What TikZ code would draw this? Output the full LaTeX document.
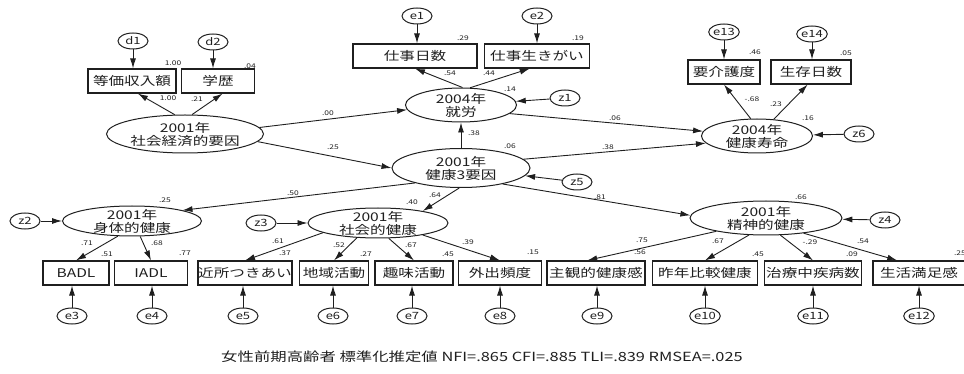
\documentclass[tikz,border=0pt]{standalone}
\usepackage{fontspec}
\setmainfont[FakeStretch=1.3]{Noto Sans CJK JP}
\usetikzlibrary{shapes.geometric,arrows.meta,positioning}

\tikzset{
  obs/.style={draw, rectangle, line width=1.1pt, minimum height=24pt, inner sep=0pt, font=\fontsize{12}{13}\selectfont},
  lat/.style={draw, ellipse, line width=1pt, inner xsep=0pt, inner ysep=-2pt, align=center, font=\fontsize{12}{13}\selectfont},
  err/.style={draw, ellipse, line width=1pt, minimum width=30pt, minimum height=16pt, inner sep=0pt, font=\fontsize{10}{11}\selectfont},
  coef/.style={inner sep=0pt, font=\fontsize{6.5}{7}\selectfont},
  arr/.style={-{Latex[length=10pt,width=6pt]}, line width=0.9pt},
}

\begin{document}
\begin{tikzpicture}[x=1pt, y=-1pt, color=black!88]
\useasboundingbox (0,0) rectangle (964,374);

\node[lat, minimum width=157pt, minimum height=38pt] (ses) at (185,134) {2001年\\社会経済的要因};
\node[lat, minimum width=111pt, minimum height=34pt] (work) at (461,105) {2004年\\就労};
\node[lat, minimum width=138pt, minimum height=39pt] (h3) at (461,168) {2001年\\健康3要因};
\node[lat, minimum width=111pt, minimum height=34pt] (hle) at (757,136) {2004年\\健康寿命};
\node[lat, minimum width=139pt, minimum height=30pt] (phys) at (132,221) {2001年\\身体的健康};
\node[lat, minimum width=140pt, minimum height=30pt] (soc) at (378,223) {2001年\\社会的健康};
\node[lat, minimum width=152pt, minimum height=34pt] (ment) at (766,218) {2001年\\精神的健康};

\node[obs, minimum width=88pt] (inc) at (132,81) {等価収入額};
\node[obs, minimum width=73pt] (edu) at (218,81) {学歴};
\node[obs, minimum width=124pt] (wdays) at (415,56) {仕事日数};
\node[obs, minimum width=105pt] (wlife) at (537,56) {仕事生きがい};
\node[obs, minimum width=72pt] (care) at (724,72) {要介護度};
\node[obs, minimum width=80pt] (surv) at (811,72) {生存日数};

\node[obs, minimum width=66pt] (badl) at (76,273) {BADL};
\node[obs, minimum width=73pt] (iadl) at (151,273) {IADL};
\node[obs, minimum width=94pt] (nbr) at (245,273) {近所つきあい};
\node[obs, minimum width=69pt] (comm) at (334,273) {地域活動};
\node[obs, minimum width=78pt] (hobby) at (414,273) {趣味活動};
\node[obs, minimum width=83pt] (out) at (500,273) {外出頻度};
\node[obs, minimum width=98pt] (subj) at (596,273) {主観的健康感};
\node[obs, minimum width=105pt] (comp) at (705,273) {昨年比較健康};
\node[obs, minimum width=97pt] (dis) at (813,273) {治療中疾病数};
\node[obs, minimum width=92pt] (sat) at (919,273) {生活満足感};

\foreach \nm/\px/\py in {d1/133/41, d2/213/42, e1/417/16, e2/537/16, e13/724/32, e14/812/34,
  z1/565/98, z5/577/182, z6/859/134, z2/25/221, z3/261/223, z4/885/220}
  { \node[err] (\nm) at (\px,\py) {\nm}; }
\foreach \nm/\px in {e3/72, e4/152, e5/243, e6/333, e7/412, e8/500, e9/597, e10/705, e11/813, e12/919}
  { \node[err] (\nm) at (\px,316) {\nm}; }

\draw[arr] (d1) -- (d1 |- inc.north); \draw[arr] (d2) -- (d2 |- edu.north);
\draw[arr] (e1) -- (e1 |- wdays.north); \draw[arr] (e2) -- (e2 |- wlife.north);
\draw[arr] (e13) -- (e13 |- care.north); \draw[arr] (e14) -- (e14 |- surv.north);
\foreach \e/\b in {e3/badl, e4/iadl, e5/nbr, e6/comm, e7/hobby, e8/out, e9/subj, e10/comp, e11/dis, e12/sat}
  { \draw[arr] (\e) -- (\e |- \b.south); }
\foreach \z/\l in {z1/work, z5/h3, z6/hle, z2/phys, z3/soc, z4/ment} { \draw[arr] (\z) -- (\l); }

\draw[arr] (ses.118) -- (inc.295); \draw[arr] (ses.70) -- (edu.290);
\draw[arr] (ses.5) -- (work.185); \draw[arr] (ses.354) -- (h3.west);
\draw[arr] (work.85) -- (wdays.south); \draw[arr] (work.62) -- (wlife.240);
\draw[arr] (h3) -- (work);
\draw[arr] (work.350) -- (hle.175); \draw[arr] (h3.8) -- (hle.188);
\draw[arr] (hle.110) -- (care.south); \draw[arr] (hle.45) -- (surv.255);
\draw[arr] (h3.198) -- (phys.12); \draw[arr] (h3.265) -- (soc.15); \draw[arr] (h3.339) -- (ment.178);
\draw[arr] (phys.227) -- (badl.north); \draw[arr] (phys.298) -- (iadl.north);
\draw[arr] (soc.190) -- (nbr.north); \draw[arr] (soc.215) -- (comm.north);
\draw[arr] (soc.305) -- (hobby.north); \draw[arr] (soc.345) -- (out.north);
\draw[arr] (ment.195) -- (subj.125); \draw[arr] (ment.225) -- (comp.north);
\draw[arr] (ment.310) -- (dis.north); \draw[arr] (ment.338) -- (sat.150);

\foreach \nm/\px/\py/\tx in {rinc/173/63/1.00, redu/250/66/.04, linc/168/98/1.00, ledu/197/99/.21,
  lseswork/328/113/.00, lsesh/333/147/.25, rwdays/463/38/.29, rwlife/578/38/.19,
  lwdays/450/73/.54, lwlife/489/73/.44, rwork/510/89/.14, lhwork/474/133/.38, rh/510/146/.06,
  lworkhle/615/118/.06, lhhle/608/147/.38, rcare/755/52/.46, rsurv/846/53/.05,
  lcare/752/99/-.68, lsurv/776/104/.23, rhle/808/118/.16, rment/801/197/.66,
  rphys/165/200/.25, lphys/293/193/.50, lbadl/87/243/.71, rbadl/107/254/.51,
  liadl/157/243/.68, riadl/185/253/.77, lnbr/278/241/.61, rnbr/285/253/.37,
  rsoc/412/202/.40, lsoc/435/195/.64, lcomm/339/245/.52, rcomm/366/254/.27,
  lhobby/411/245/.67, rhobby/448/254/.45, lout/468/242/.39, rout/533/252/.15,
  lment/600/197/.81, lsubj/642/240/.75, rsubj/640/252/.56, lcomp/718/241/.67,
  rcomp/758/254/.45, ldis/810/242/-.29, rdis/852/254/.09, lsat/863/241/.54, rsat/960/253/.25}
  { \node[coef] (\nm) at (\px,\py) {\tx}; }

\node[font=\fontsize{12.6}{13}\selectfont] (caption) at (482,357) {女性前期高齢者 標準化推定値 NFI=.865 CFI=.885 TLI=.839 RMSEA=.025};
\end{tikzpicture}
\end{document}
